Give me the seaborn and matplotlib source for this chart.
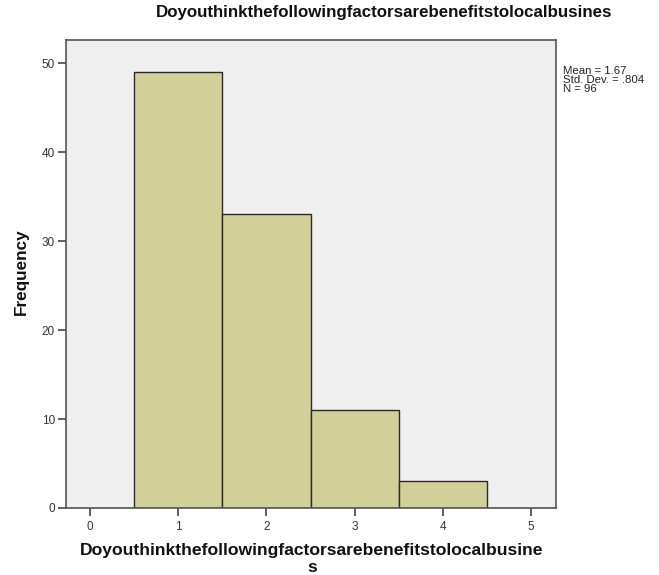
import numpy as np
import pandas as pd
import matplotlib
matplotlib.use("Agg")
import matplotlib.pyplot as plt
import seaborn as sns

# ---- data ----
categories = [1, 2, 3, 4]
frequencies = [49, 33, 11, 3]
x_ticks = [0, 1, 2, 3, 4, 5]
y_ticks = [0, 10, 20, 30, 40, 50]
title = "Doyouthinkthefollowingfactorsarebenefitstolocalbusines"
x_label_line1 = "Doyouthinkthefollowingfactorsarebenefitstolocalbusine"
x_label_line2 = "s"
y_label = "Frequency"
stats_lines = ["Mean = 1.67", "Std. Dev. = .804", "N = 96"]

df = pd.DataFrame({"value": categories, "count": frequencies})

sns.set_theme(style="white")
plt.rcParams["font.family"] = ["Liberation Sans", "DejaVu Sans"]

fig = plt.figure(figsize=(6.59, 5.75), dpi=100)
ax = fig.add_axes([66 / 659, 1 - 508 / 575, (556 - 66) / 659, (508 - 40) / 575])
ax.set_facecolor("#efefef")

sns.histplot(data=df, x="value", weights="count", discrete=True, ax=ax,
             color="#d3cf98", alpha=1.0, edgecolor="#2b2b2b", linewidth=1.0)

ax.set_xlim(-0.272, 5.283)
ax.set_ylim(0, 52.62)
ax.set_xticks(x_ticks)
ax.set_yticks(y_ticks)
ax.set_xticklabels([str(t) for t in x_ticks])
ax.set_yticklabels([str(t) for t in y_ticks])
ax.tick_params(axis="both", direction="out", length=6, width=1.2, color="#444444",
               labelsize=8.5, labelcolor="#333333", pad=2)
ax.tick_params(axis="x", pad=3)
ax.tick_params(axis="both", which="both", bottom=True, left=True)

for s in ax.spines.values():
    s.set_visible(True)
    s.set_color("#555555")
    s.set_linewidth(1.2)

ax.set_xlabel("")
ax.set_ylabel("")

fig.text(384 / 659, 1 - 13 / 575, title, ha="center", va="center",
         fontsize=12.2, fontweight="bold", color="#111111")
fig.text(312 / 659, 1 - 551 / 575, x_label_line1, ha="center", va="center",
         fontsize=12.6, fontweight="bold", color="#111111")
fig.text(312 / 659, 1 - 567 / 575, x_label_line2, ha="center", va="center",
         fontsize=12.6, fontweight="bold", color="#111111")
fig.text(21 / 659, 1 - 272 / 575, y_label, ha="center", va="center",
         rotation=90, fontsize=12.3, fontweight="bold", color="#111111")
fig.text(563 / 659, 1 - 66 / 575, "\n".join(stats_lines), ha="left", va="top",
         fontsize=8.2, color="#222222", linespacing=0.88)

fig.savefig("out.png", dpi=100)
